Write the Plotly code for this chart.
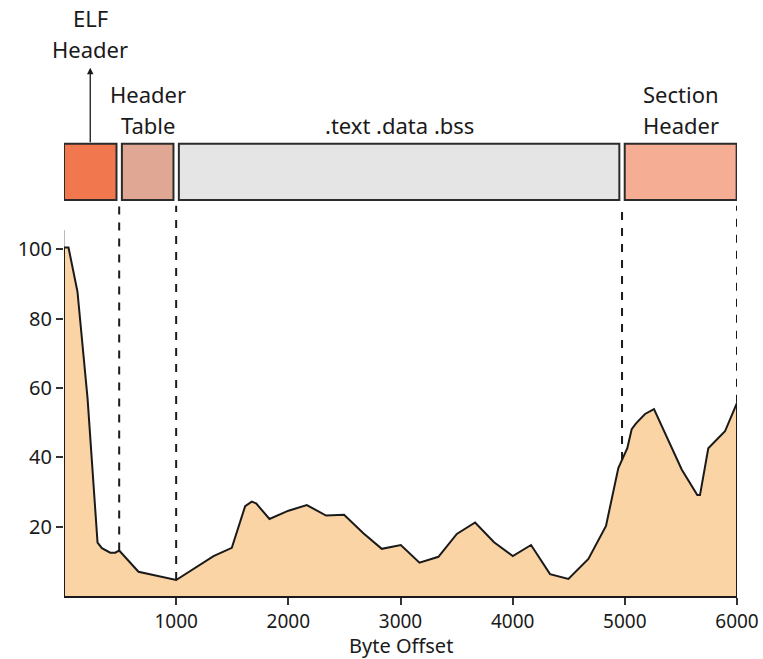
import numpy as np
import plotly.graph_objects as go

# Byte offset (bytes) and measured value along the file
offsets = [0, 40, 120, 210, 299, 338, 412, 456, 492, 664, 1000, 1333, 1496,
           1615, 1674, 1713, 1832, 2001, 2165, 2337, 2497, 2669, 2833, 3003,
           3169, 3338, 3502, 3665, 3834, 4001, 4164, 4333, 4497, 4675, 4832,
           4942, 5022, 5061, 5100, 5180, 5260, 5507, 5646, 5670, 5744, 5893,
           6000]
values = [100.5, 100.5, 87.8, 57.0, 15.4, 13.8, 12.5, 12.5, 13.1, 7.0, 4.6,
          11.5, 13.9, 25.9, 27.2, 26.7, 22.2, 24.6, 26.2, 23.2, 23.4, 18.1,
          13.6, 14.7, 9.6, 11.3, 17.9, 21.2, 15.5, 11.5, 14.7, 6.3, 4.9, 10.7,
          20.2, 36.9, 42.6, 48.1, 49.8, 52.5, 53.9, 36.5, 29.1, 29.1, 42.6,
          47.5, 55.7]

# ELF file layout (byte ranges)
section_names = [["ELF", "Header"], ["Header", "Table"], [".text .data .bss"],
                 ["Section", "Header"]]
section_start = [0, 492, 1000, 4975]
section_end = [492, 1000, 4975, 6000]
section_colors = ["#F0774E", "#E0A894", "#E5E5E5", "#F5AD94"]

x_ticks = [1000, 2000, 3000, 4000, 5000, 6000]
y_ticks = [20, 40, 60, 80, 100]
x_title = "Byte Offset"

X_MAX = 6000
Y_AXIS_TOP = 105.5
Y_RANGE_TOP = 166.1
BOX_BOTTOM, BOX_TOP = 114.2, 130.4
DASH_TOP = 112.5
ARROW_TIP = 152.3
GAP = 24
FONT = "Noto Sans"
INK = "#1a1a1a"

fig = go.Figure()

# filled profile, closed down to the x axis at both ends
fig.add_trace(go.Scatter(
    x=[offsets[0]] + offsets + [offsets[-1]],
    y=[0] + values + [0],
    mode="lines", fill="toself", fillcolor="#FBD4A6",
    line=dict(color=INK, width=2), hoverinfo="skip", showlegend=False))

shapes = []
# left axis line (only up to the data region)
shapes.append(dict(type="line", xref="x", yref="y", x0=0, x1=0, y0=0,
                   y1=Y_AXIS_TOP, line=dict(color="#777777", width=1),
                   layer="below"))

annotations = []
n = len(section_start)
for i in range(n):
    x0 = section_start[i] + (GAP if i > 0 else 0)
    x1 = section_end[i] - (GAP if i < n - 1 else 3)
    shapes.append(dict(type="rect", xref="x", yref="y", x0=x0, x1=x1,
                       y0=BOX_BOTTOM, y1=BOX_TOP, fillcolor=section_colors[i],
                       line=dict(color="#2b2b2b", width=2)))
    # dashed boundary down to the profile
    b = section_end[i]
    shapes.append(dict(type="line", xref="x", yref="y", x0=b, x1=b,
                       y0=float(np.interp(b, offsets, values)), y1=DASH_TOP,
                       line=dict(color=INK, width=2, dash="8px,8px")))

    xc = (x0 + x1) / 2
    base = ARROW_TIP if i == 0 else BOX_TOP
    for j, line in enumerate(reversed(section_names[i])):
        annotations.append(dict(x=xc, y=base, xref="x", yref="y", text=line,
                                showarrow=False, yanchor="middle",
                                yshift=19 + 31 * j,
                                font=dict(family=FONT, size=22, color=INK)))

# arrow pointing from the ELF header box to its label
elf_center = (section_start[0] + section_end[0] - GAP) / 2
annotations.append(dict(x=elf_center, y=ARROW_TIP, ax=elf_center, ay=BOX_TOP,
                        xref="x", yref="y", axref="x", ayref="y", text="",
                        showarrow=True, arrowhead=2, arrowsize=1,
                        arrowwidth=1.3, arrowcolor=INK, standoff=0,
                        startstandoff=0))

# x-axis title, placed just below the tick labels
annotations.append(dict(x=0.5, y=0, xref="paper", yref="paper", text=x_title,
                        showarrow=False, yanchor="top", yshift=-35,
                        borderpad=0,
                        font=dict(family=FONT, size=20, color=INK)))

fig.update_layout(
    width=763, height=659,
    margin=dict(l=64, r=26, t=20, b=63, autoexpand=False),
    plot_bgcolor="white", paper_bgcolor="white",
    font=dict(family=FONT, size=20, color=INK),
    shapes=shapes, annotations=annotations,
    xaxis=dict(range=[0, X_MAX], tickvals=x_ticks, ticks="outside",
               ticklen=7, tickwidth=1.5, tickcolor="#333333",
               showline=True, linecolor=INK, linewidth=2,
               showgrid=False, zeroline=False, automargin=False,
               tickfont=dict(family=FONT, size=19, color=INK)),
    yaxis=dict(range=[0, Y_RANGE_TOP], tickvals=y_ticks, ticks="outside",
               ticklen=7, tickwidth=1.5, tickcolor="#333333",
               showline=False, showgrid=False, zeroline=False,
               automargin=False,
               tickfont=dict(family=FONT, size=20, color=INK)),
)

fig.write_html("out.html")
